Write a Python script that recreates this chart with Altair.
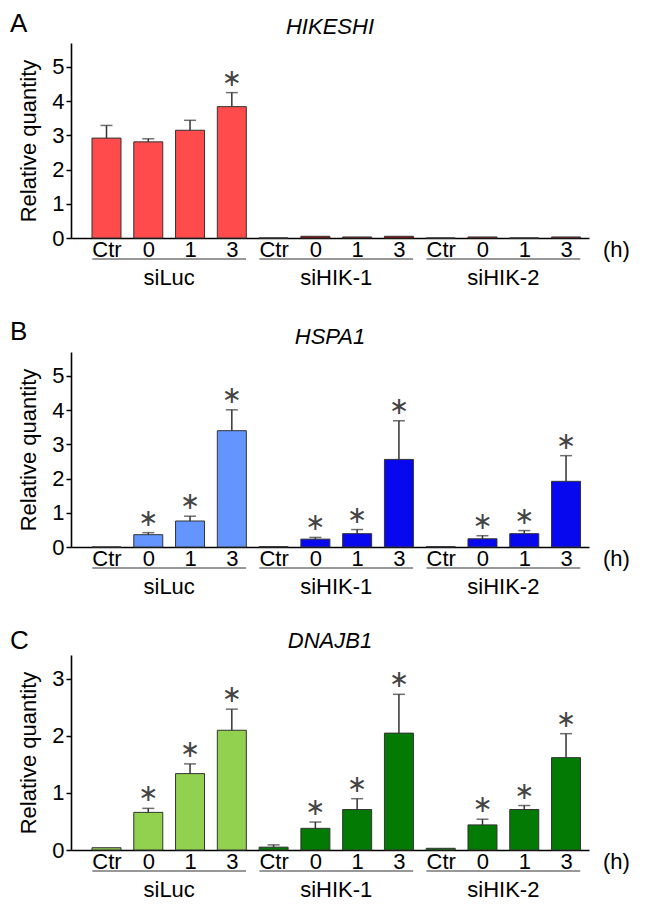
import altair as alt
import pandas as pd

# ---------------- data ----------------
GROUPS = ["siLuc", "siHIK-1", "siHIK-2"]
TIMES = ["Ctr", "0", "1", "3"]
GENES = ["HIKESHI", "HSPA1", "DNAJB1"]
LETTERS = ["A", "B", "C"]

HIKESHI_MEAN = [2.92, 2.81, 3.15, 3.84, 0.0, 0.05, 0.03, 0.05, 0.0, 0.03, 0.0, 0.03]
HIKESHI_SD = [0.37, 0.09, 0.29, 0.41, 0.0, 0.0, 0.0, 0.0, 0.0, 0.0, 0.0, 0.0]
HIKESHI_SIG = [0, 0, 0, 1, 0, 0, 0, 0, 0, 0, 0, 0]

HSPA1_MEAN = [0.0, 0.36, 0.76, 3.40, 0.01, 0.23, 0.39, 2.56, 0.01, 0.24, 0.39, 1.92]
HSPA1_SD = [0.0, 0.06, 0.14, 0.61, 0.0, 0.05, 0.12, 1.13, 0.0, 0.09, 0.09, 0.75]
HSPA1_SIG = [0, 1, 1, 1, 0, 1, 1, 1, 0, 1, 1, 1]

DNAJB1_MEAN = [0.04, 0.66, 1.34, 2.10, 0.05, 0.38, 0.71, 2.05, 0.03, 0.44, 0.71, 1.62]
DNAJB1_SD = [0.0, 0.07, 0.17, 0.37, 0.04, 0.11, 0.19, 0.68, 0.0, 0.10, 0.07, 0.42]
DNAJB1_SIG = [0, 1, 1, 1, 0, 1, 1, 1, 0, 1, 1, 1]

Y_MAX = [5.7, 5.7, 3.42]
Y_TICKS = [[0, 1, 2, 3, 4, 5], [0, 1, 2, 3, 4, 5], [0, 1, 2, 3]]

# ---------------- styles ----------------
COLORS = [("#FF4B4B", "#B00000"), ("#6495FF", "#0808EE"), ("#92D050", "#037A03")]
FONT = "Liberation Sans"
W, H = 518, 195
LETTER_Y = [-11, -12, -6]
GENE_Y = [-9, -8, -7]
BAR_HALF = 0.34

SERIES = [
    (HIKESHI_MEAN, HIKESHI_SD, HIKESHI_SIG),
    (HSPA1_MEAN, HSPA1_SD, HSPA1_SIG),
    (DNAJB1_MEAN, DNAJB1_SD, DNAJB1_SIG),
]

label_arr = "[" + ",".join("'" + t + "'" for t in TIMES) + "]"
x_scale = alt.Scale(domain=[-0.73, 11.43], nice=False, zero=False)
x_axis = alt.Axis(
    values=list(range(12)), labelExpr=f"{label_arr}[datum.value % 4]",
    ticks=False, grid=False, title=None, domainColor="black", domainWidth=1.6,
    labelFontSize=22, labelFont=FONT, labelColor="black", labelPadding=1,
    labelFlush=False, labelOverlap=False)

gdf = pd.DataFrame({
    "group": GROUPS,
    "center": [g * len(TIMES) + (len(TIMES) - 1) / 2 for g in range(len(GROUPS))],
    "start": [g * len(TIMES) - BAR_HALF for g in range(len(GROUPS))],
    "end": [g * len(TIMES) + len(TIMES) - 1 + BAR_HALF for g in range(len(GROUPS))],
})


def panel(k):
    mean, sd, sig = SERIES[k]
    rows = []
    for g, grp in enumerate(GROUPS):
        for t, tm in enumerate(TIMES):
            i = g * len(TIMES) + t
            rows.append({
                "idx": i, "group": grp, "time": tm,
                "mean": mean[i], "sd": sd[i], "sig": sig[i],
                "shade": "light" if g == 0 else "dark",
            })
    df = pd.DataFrame(rows)
    base = alt.Chart(df).transform_calculate(top="datum.mean + datum.sd")
    y_scale = alt.Scale(domain=[0, Y_MAX[k]], nice=False)
    y_axis = alt.Axis(
        values=Y_TICKS[k], grid=False, title="Relative quantity",
        titleFontSize=22, titleFont=FONT, titleFontWeight="normal", titleColor="black",
        titlePadding=11, labelFontSize=22, labelFont=FONT, labelColor="black",
        labelPadding=2, tickSize=5, tickWidth=1.5, tickColor="black",
        domainColor="black", domainWidth=1.6)

    def X(f):
        return alt.X(f, scale=x_scale, axis=x_axis)

    def Y(f):
        return alt.Y(f, scale=y_scale, axis=y_axis)

    bars = base.mark_bar(size=29, stroke="#333333", strokeWidth=1).encode(
        x=X("idx:Q"), y=Y("mean:Q"),
        color=alt.Color("shade:N", scale=alt.Scale(domain=["light", "dark"], range=list(COLORS[k])), legend=None),
    )
    errs = base.transform_filter("datum.sd > 0")
    rule = errs.mark_rule(color="#333333", strokeWidth=1.5).encode(
        x=X("idx:Q"), y=Y("mean:Q"), y2="top:Q")
    cap = errs.mark_tick(orient="horizontal", size=12, thickness=1.5, color="#333333").encode(
        x=X("idx:Q"), y=Y("top:Q"))
    stars = base.transform_filter("datum.sig == 1").mark_text(
        text="∗", font="DejaVu Sans", fontSize=24, baseline="middle", dy=-14, color="#444444").encode(
        x=X("idx:Q"), y=Y("top:Q"))

    gbase = alt.Chart(gdf)
    uline = gbase.mark_rule(color="#333333", strokeWidth=1).encode(
        x=X("start:Q"), x2="end:Q", y=alt.value(H + 21))
    gtext = gbase.mark_text(fontSize=22, font=FONT, baseline="middle", color="black").encode(
        x=X("center:Q"), y=alt.value(H + 40), text="group:N")

    ann = alt.Chart(pd.DataFrame({"h": ["(h)"], "gene": [GENES[k]], "letter": [LETTERS[k]]}))
    hlab = ann.mark_text(fontSize=22, font=FONT, align="left", baseline="middle", color="black").encode(
        x=alt.value(W + 14), y=alt.value(H + 12), text="h:N")
    gene = ann.mark_text(fontSize=22, font=FONT, fontStyle="italic", align="center",
                         baseline="alphabetic", color="black").encode(
        x=alt.value(W / 2), y=alt.value(GENE_Y[k]), text="gene:N")
    letter = ann.mark_text(fontSize=26, font=FONT, align="left", baseline="alphabetic", color="black").encode(
        x=alt.value(-61), y=alt.value(LETTER_Y[k]), text="letter:N")

    return alt.layer(bars, rule, cap, stars, uline, gtext, hlab, gene, letter).properties(width=W, height=H)


chart = alt.vconcat(panel(0), panel(1), panel(2), spacing=30).resolve_scale(
    x="independent", y="independent", color="independent"
).properties(padding={"left": 2, "top": 3, "right": 5, "bottom": 5}).configure_view(stroke=None)

chart.save("out.html", embed_options={"renderer": "svg", "actions": False})
